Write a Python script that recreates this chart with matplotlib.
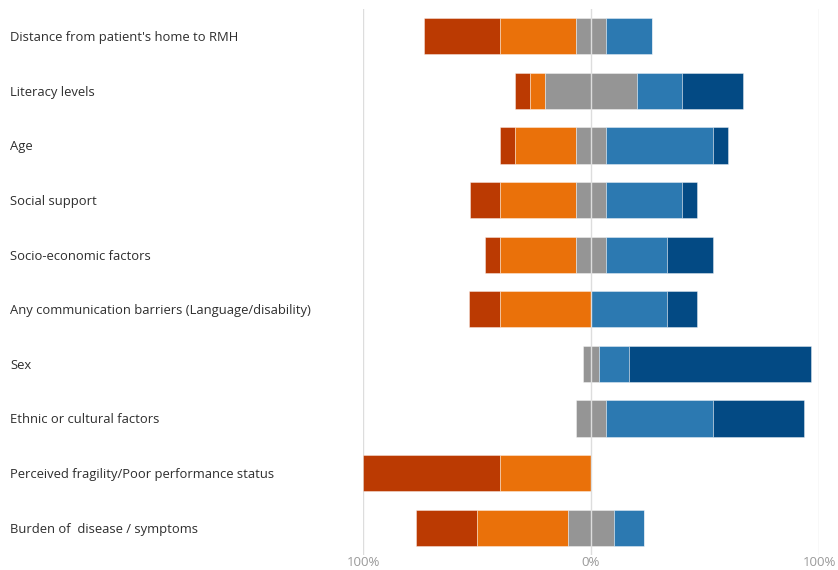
import matplotlib
matplotlib.use("Agg")
import matplotlib.pyplot as plt
import matplotlib.transforms as mtransforms
import numpy as np

plt.rcParams['font.family'] = ['Open Sans', 'DejaVu Sans']

# Survey items, top to bottom
items = [
    "Distance from patient's home to RMH",
    "Literacy levels",
    "Age",
    "Social support",
    "Socio-economic factors",
    "Any communication barriers (Language/disability)",
    "Sex",
    "Ethnic or cultural factors",
    "Perceived fragility/Poor performance status",
    "Burden of  disease / symptoms",
]

# Share of responses (%) per response level
strong_neg = [33.3, 6.7, 6.7, 13.3, 6.7, 13.3, 0.0, 0.0, 60.0, 26.7]
negative   = [33.3, 6.7, 26.7, 33.3, 33.3, 40.0, 0.0, 0.0, 40.0, 40.0]
neutral    = [13.3, 40.0, 13.3, 13.3, 13.3, 0.0, 6.7, 13.3, 0.0, 20.0]
positive   = [20.0, 20.0, 46.7, 33.3, 26.7, 33.3, 13.3, 46.7, 0.0, 13.3]
strong_pos = [0.0, 26.7, 6.7, 6.7, 20.0, 13.3, 80.0, 40.0, 0.0, 0.0]

tick_values = [-100, 0, 100]
tick_labels = ["100%", "0%", "100%"]

colors = {
    "strong_neg": "#BB3A02",
    "negative": "#EA710A",
    "neutral": "#959595",
    "positive": "#2C79B1",
    "strong_pos": "#034A84",
}

W, H = 838, 570
fig = plt.figure(figsize=(W / 100, H / 100), dpi=100)
ax = fig.add_axes([363 / W, 15 / H, (819 - 363) / W, (561 - 15) / H])

sn = np.array(strong_neg)
ng = np.array(negative)
nu = np.array(neutral)
ps = np.array(positive)
sp = np.array(strong_pos)
y = np.arange(len(items))
h = 0.66

# Negative side grows left from the midpoint of the neutral segment
left_neutral = -nu / 2
left_neg = left_neutral - ng
left_sneg = left_neg - sn
left_pos = nu / 2
left_spos = left_pos + ps

edge = dict(edgecolor=(1, 1, 1, 0.45), linewidth=0.6)
ax.barh(y, sn, left=left_sneg, height=h, color=colors["strong_neg"], **edge)
ax.barh(y, ng, left=left_neg, height=h, color=colors["negative"], **edge)
ax.barh(y, nu, left=left_neutral, height=h, color=colors["neutral"], **edge)
ax.barh(y, ps, left=left_pos, height=h, color=colors["positive"], **edge)
ax.barh(y, sp, left=left_spos, height=h, color=colors["strong_pos"], **edge)

for xv in tick_values:
    ax.axvline(xv, color="#DDDDDD", linewidth=1.0, zorder=5 if xv == 0 else 0)

ax.set_xlim(-100, 100)
ax.set_ylim(len(items) - 0.5, -0.5)
ax.set_xticks(tick_values)
ax.set_xticklabels(tick_labels)
ax.tick_params(axis="x", length=0, pad=1, labelsize=9.5, labelcolor="#9A9A9A")
ax.set_yticks([])
for s in ax.spines.values():
    s.set_visible(False)

trans = mtransforms.blended_transform_factory(fig.transFigure, ax.transData)
for yi, label in zip(y, items):
    ax.text(10 / W, yi, label, transform=trans, ha="left", va="center_baseline",
            fontsize=9.4, color="#2E2E2E")

fig.savefig("out.png", dpi=100)
